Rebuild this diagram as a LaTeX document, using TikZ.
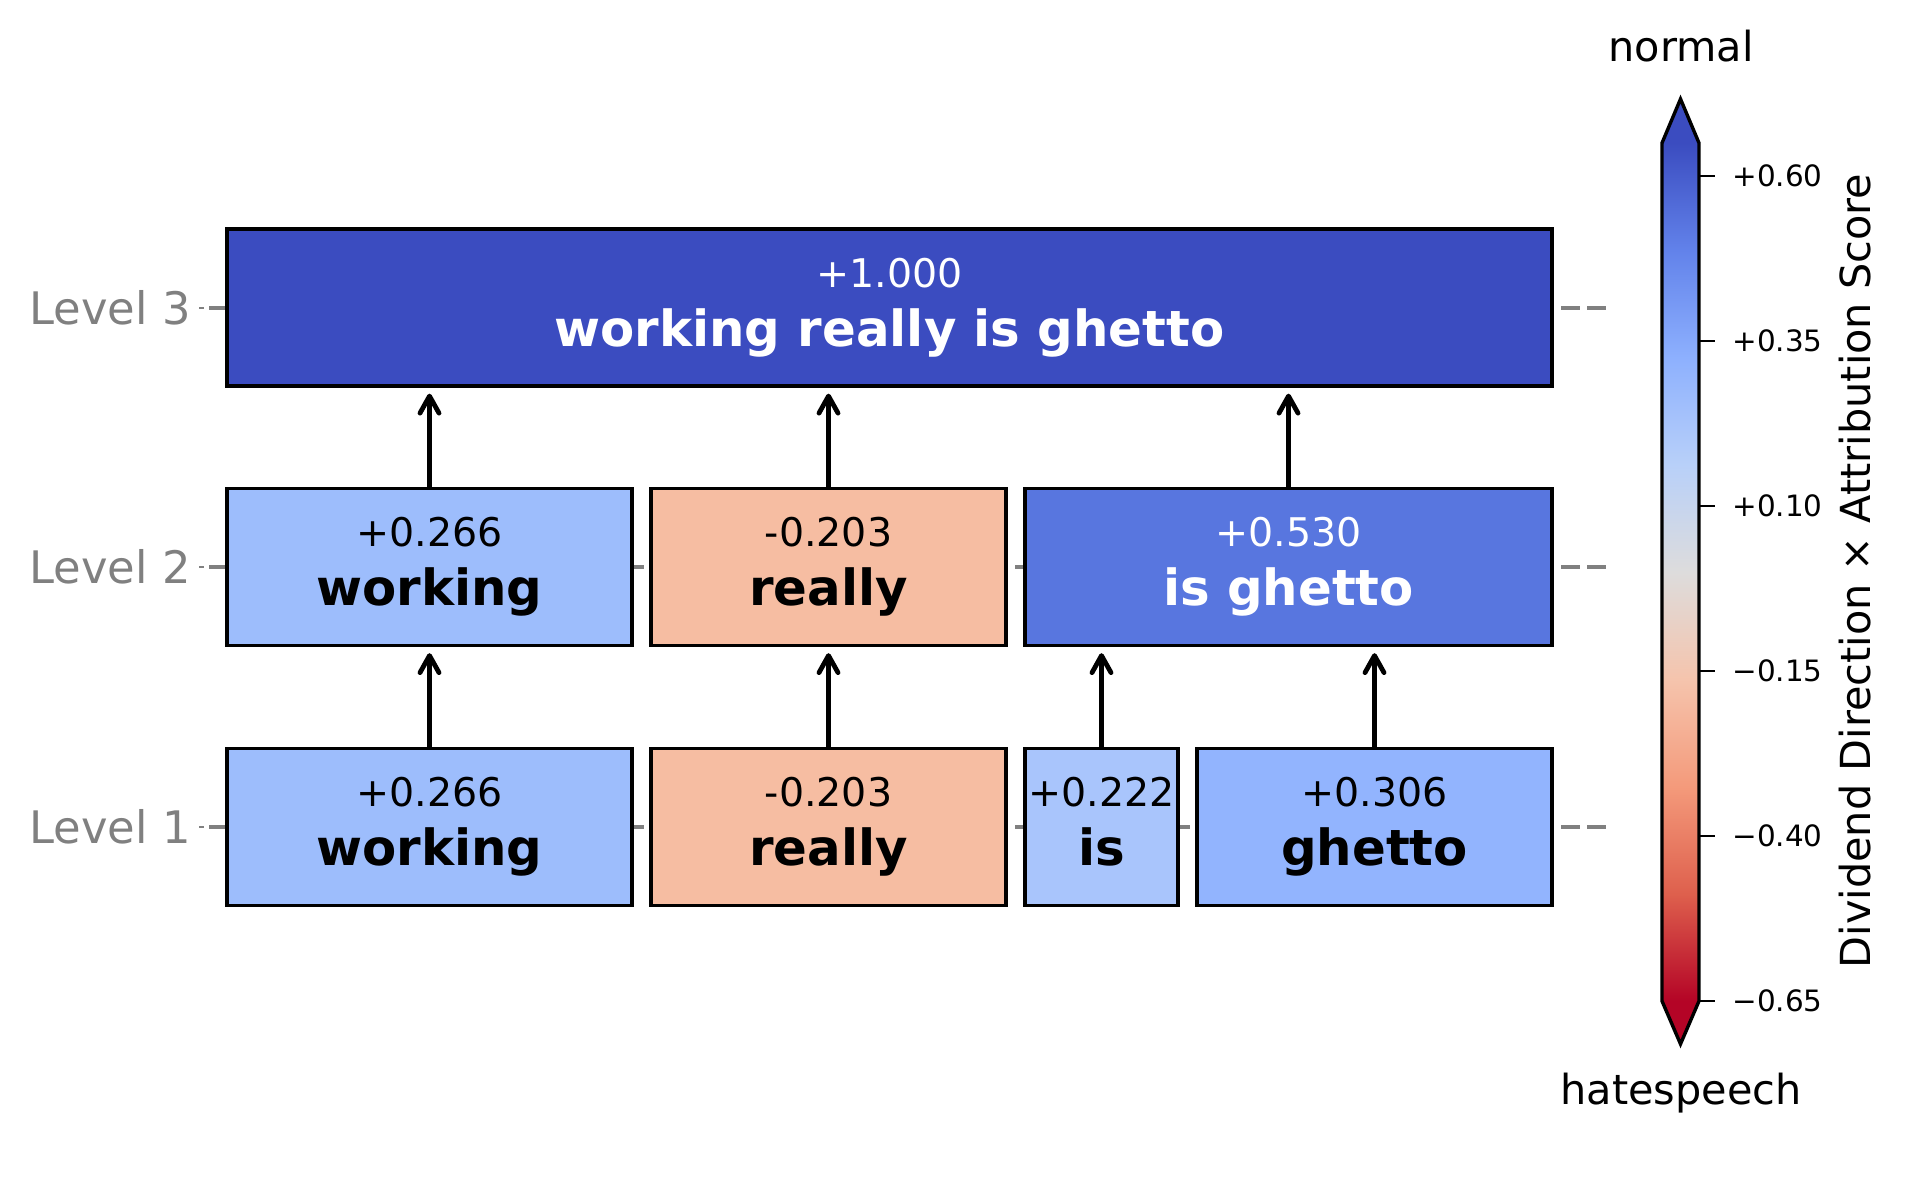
\documentclass[tikz,border=0pt]{standalone}
\usepackage{fontspec}
\setmainfont{DejaVu Sans}
\usepackage{tikz}
\usetikzlibrary{arrows.meta}

\definecolor{cwtop}{RGB}{59,76,192}
\definecolor{cwisghetto}{RGB}{88,118,223}
\definecolor{cwworking}{RGB}{157,189,252}
\definecolor{cwis}{RGB}{169,197,252}
\definecolor{cwghetto}{RGB}{146,180,254}
\definecolor{cwreally}{RGB}{246,189,162}
\definecolor{cwbot}{RGB}{180,4,38}
\definecolor{levgray}{RGB}{128,128,128}

\pgfdeclareverticalshading{cwbar}{100bp}{rgb(0bp)=(0.706,0.016,0.149); rgb(25bp)=(0.706,0.016,0.149); rgb(31.25bp)=(0.871,0.376,0.302); rgb(37.5bp)=(0.957,0.604,0.482); rgb(43.75bp)=(0.961,0.769,0.678); rgb(50bp)=(0.867,0.863,0.863); rgb(56.25bp)=(0.722,0.816,0.976); rgb(62.5bp)=(0.553,0.690,0.996); rgb(68.75bp)=(0.384,0.510,0.918); rgb(75bp)=(0.231,0.298,0.753); rgb(100bp)=(0.231,0.298,0.753)}

\newcommand{\tokword}[1]{{\fontsize{24.9}{29.5}\selectfont\bfseries #1\vphantom{g}}}

\tikzstyle{tokbox} = [rectangle, draw=black, line width=1.7pt, inner sep=0pt, minimum height=78.5pt, align=center, font=\fontsize{19.75}{29.5}\selectfont]
\tikzstyle{levlabel} = [anchor=east, inner sep=0pt, text=levgray, font=\fontsize{22.4}{26}\selectfont]
\tikzstyle{gridline} = [levgray, line width=2pt, dash pattern=on 9.5pt off 3.5pt]
\tikzstyle{levtick} = [levgray, line width=1pt]
\tikzstyle{arrow} = [line width=2.4pt, -{Straight Barb[length=8.5pt,width=9.5pt,round]}, shorten >=3pt]
\tikzstyle{cbtick} = [anchor=west, inner sep=0pt, font=\fontsize{14.7}{17}\selectfont]
\tikzstyle{cbtext} = [inner sep=0pt, font=\fontsize{20.7}{24}\selectfont]

\begin{document}
\begin{tikzpicture}[x=0.5pt, y=-0.5pt]

\useasboundingbox (0,0) rectangle (1907,1196);

\foreach \y in {307.5,567,827} {
  \draw [gridline] (209,\y) -- (1607,\y);
  \draw [levtick] (199,\y) -- (204,\y);
}

\node (lv3) [tokbox, fill=cwtop, text=white, minimum width=662.5pt] at (889.5,307.5) {+1.000\\\tokword{working really is ghetto}};

\node (wk2) [tokbox, fill=cwworking, minimum width=202.5pt] at (429.5,567) {+0.266\\\tokword{working}};
\node (rl2) [tokbox, fill=cwreally, minimum width=177.5pt] at (828.5,567) {-0.203\\\tokword{really}};
\node (ig2) [tokbox, fill=cwisghetto, text=white, minimum width=263.5pt] at (1288.5,567) {+0.530\\\tokword{is ghetto}};

\node (wk1) [tokbox, fill=cwworking, minimum width=202.5pt] at (429.5,827) {+0.266\\\tokword{working}};
\node (rl1) [tokbox, fill=cwreally, minimum width=177.5pt] at (828.5,827) {-0.203\\\tokword{really}};
\node (is1) [tokbox, fill=cwis, minimum width=76.5pt] at (1101.5,827) {+0.222\\\tokword{is}};
\node (gh1) [tokbox, fill=cwghetto, minimum width=177.5pt] at (1374.5,827) {+0.306\\\tokword{ghetto}};

\draw [arrow] (wk2.north) -- (wk2.north |- lv3.south);
\draw [arrow] (rl2.north) -- (rl2.north |- lv3.south);
\draw [arrow] (ig2.north) -- (ig2.north |- lv3.south);
\draw [arrow] (wk1.north) -- (wk1.north |- wk2.south);
\draw [arrow] (rl1.north) -- (rl1.north |- rl2.south);
\draw [arrow] (is1.north) -- (is1.north |- ig2.south);
\draw [arrow] (gh1.north) -- (gh1.north |- ig2.south);

\node (lab3) [levlabel] at (191,307.5) {Level 3};
\node (lab2) [levlabel] at (191,567) {Level 2};
\node (lab1) [levlabel] at (191,827) {Level 1};

\shade [shading=cwbar] (1662,143) rectangle (1699,1001);
\fill [cwtop] (1662,143) -- (1680.5,99) -- (1699,143) -- cycle;
\fill [cwbot] (1662,1001) -- (1680.5,1044) -- (1699,1001) -- cycle;
\draw [line width=1.7pt] (1662,143) -- (1680.5,99) -- (1699,143) -- (1699,1001) -- (1680.5,1044) -- (1662,1001) -- cycle;

\foreach \ty/\tl [count=\i] in {176/+0.60, 341/+0.35, 506/+0.10, 671/−0.15, 836/−0.40, 1001/−0.65} {
  \draw [line width=1.4pt] (1699,\ty) -- (1715,\ty);
  \node (tk\i) [cbtick] at (1732,\ty) {\tl};
}

\node (nrm) [cbtext] at (1681,46) {normal};
\node (hate) [cbtext] at (1681,1093) {hatespeech};
\node (cblab) [cbtext, rotate=90] at (1855,571) {Dividend Direction × Attribution Score};

\end{tikzpicture}
\end{document}
